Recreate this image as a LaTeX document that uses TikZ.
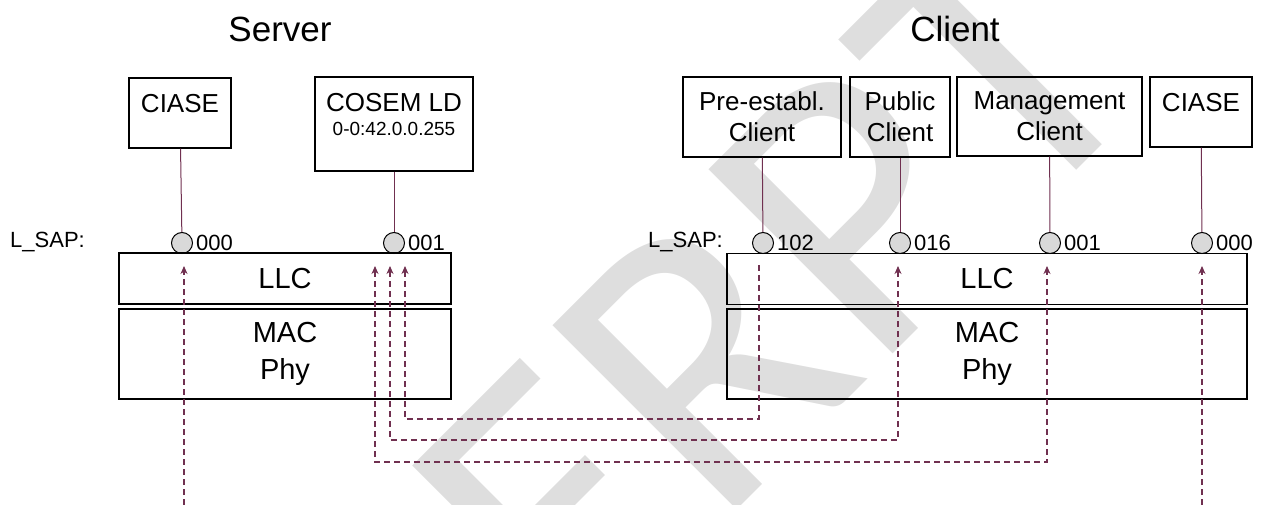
\documentclass[tikz,border=0pt]{standalone}
\usepackage{fontspec}
\setmainfont{Liberation Sans}
\newfontfamily\wmfont{Carlito}
\usetikzlibrary{positioning, arrows.meta}

\definecolor{linkred}{RGB}{112,48,80}
\definecolor{sapgray}{RGB}{217,217,217}
\definecolor{wmgray}{RGB}{222,222,222}

\newcommand{\bodyfont}{\fontsize{26bp}{31bp}\selectfont}
\newcommand{\titlefont}{\fontsize{35bp}{40bp}\selectfont}
\newcommand{\layerfont}{\fontsize{29bp}{37bp}\selectfont}
\newcommand{\sapfont}{\fontsize{22bp}{26bp}\selectfont}
\newcommand{\obisfont}{\fontsize{19bp}{22bp}\selectfont}

\tikzset{
    box/.style={draw, line width=1.2bp, inner sep=0pt, align=center, font=\bodyfont},
    layer/.style={draw, line width=1.8bp, inner sep=0pt, align=center, font=\layerfont,
        minimum width=#1},
    sap/.style={circle, draw, fill=sapgray, line width=1bp, inner sep=0pt, minimum size=21bp},
    sapnum/.style={font=\sapfont, inner sep=0pt},
    link/.style={draw=linkred, line width=1bp},
    msg/.style={draw=linkred, line width=1.1bp, dash pattern=on 6bp off 4bp},
    title/.style={font=\titlefont, inner sep=0pt},
    wmark/.style={rotate=45, anchor=base west, inner sep=0pt, text=wmgray,
        font=\wmfont\fontsize{406bp}{406bp}\selectfont}
}

\begin{document}
\begin{tikzpicture}[x=1bp, y=-1bp, >={Stealth[length=8bp, width=7bp, inset=2.5bp]}]
    \useasboundingbox (0,0) rectangle (1271,505);

    % watermark
    \node[wmark] (excerpt) at (142,1105) {EXCERPT};

    % titles
    \node[title, anchor=base] (srvtitle) at (280,42) {Server};
    \node[title, anchor=base] (clttitle) at (955,42) {Client};

    % server side
    \node[box, minimum width=102bp, text height=35bp, text depth=35bp] (sciase) at (180,113) {CIASE};
    \node[box, minimum width=158bp, text height=59bp, text depth=35bp] (scosem) at (394,124)
        {COSEM LD\\[-7bp]{\obisfont 0-0:42.0.0.255}};

    \node[sap] (s000) at (182,243) {};
    \node[sap] (s001) at (394,243) {};
    \node[sapnum, right=3bp of s000] (s000-n) {000};
    \node[sapnum, right=3bp of s001] (s001-n) {001};
    \node[sapnum, anchor=base west] (slsap) at (10,248) {L\_SAP:};

    \node[layer=332bp, minimum height=51bp] (sllc) at (285,278.5) {LLC};
    \node[layer=332bp, minimum height=90bp, below=3bp of sllc] (smac) {MAC\\Phy};

    % client side
    \node[box, minimum width=158bp, minimum height=80bp] (cpre) at (762,117) {Pre-establ.\\Client};
    \node[box, minimum width=100bp, minimum height=80bp] (cpub) at (900,117) {Public\\Client};
    \node[box, minimum width=185bp, minimum height=79bp] (cmgmt) at (1049.5,116.5) {Management\\Client};
    \node[box, minimum width=102bp, text height=35bp, text depth=35bp] (cciase) at (1201,112) {CIASE};

    \node[sap] (c102) at (763,243) {};
    \node[sap] (c016) at (900,243) {};
    \node[sap] (c001) at (1050,243) {};
    \node[sap] (c000) at (1202,243) {};
    \node[sapnum, right=3bp of c102] (c102-n) {102};
    \node[sapnum, right=3bp of c016] (c016-n) {016};
    \node[sapnum, right=3bp of c001] (c001-n) {001};
    \node[sapnum, right=3bp of c000] (c000-n) {000};
    \node[sapnum, anchor=base west] (clsap) at (648,248) {L\_SAP:};

    \node[layer=520bp, minimum height=51bp] (cllc) at (987,279) {LLC};
    \node[layer=520bp, minimum height=90bp, below=3bp of cllc] (cmac) {MAC\\Phy};

    % application entities to their L_SAPs
    \draw[link] (sciase) -- (s000);
    \draw[link] (scosem) -- (s001);
    \draw[link] (cpre) -- (c102);
    \draw[link] (cpub) -- (c016);
    \draw[link] (cmgmt) -- (c001);
    \draw[link] (cciase) -- (c000);

    % message paths
    \coordinate (s000in) at (184,266);
    \coordinate (s000out) at (184,505);
    \coordinate (c000in) at (1202,266);
    \coordinate (c000out) at (1202,505);
    \coordinate (s001a) at (405,266);
    \coordinate (s001b) at (390,266);
    \coordinate (s001c) at (375,266);
    \coordinate (c102in) at (759,265);
    \coordinate (c016in) at (898,266);
    \coordinate (c001in) at (1047,266);

    \draw[msg, ->] (s000out) -- (s000in);
    \draw[msg, ->] (c000out) -- (c000in);
    \draw[msg, ->] (c102in) -- ++(0,154) -| (s001a);
    \draw[msg, <->] (s001b) -- ++(0,174) -| (c016in);
    \draw[msg, <->] (s001c) -- ++(0,196) -| (c001in);
\end{tikzpicture}
\end{document}
